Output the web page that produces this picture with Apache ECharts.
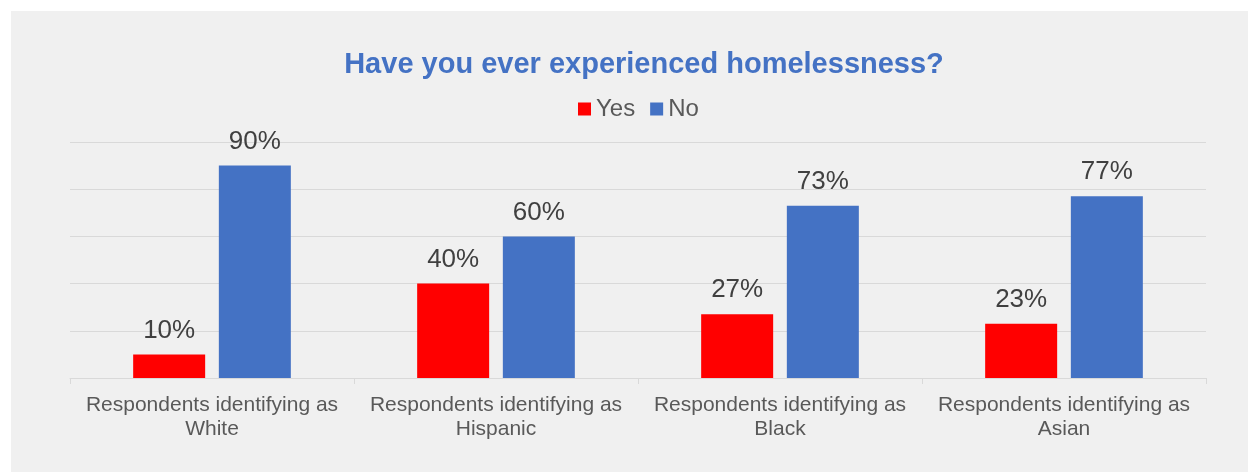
<!DOCTYPE html>
<html>
<head>
<meta charset="utf-8">
<script src="https://cdn.jsdelivr.net/npm/echarts@6/dist/echarts.min.js"></script>
<style>
  html, body { margin: 0; padding: 0; background: #ffffff; width: 1248px; height: 472px; overflow: hidden; }
  #chart { position: absolute; left: 11px; top: 11px; width: 1237px; height: 461px; background: #f0f0f0; }
</style>
</head>
<body>
<div id="chart"></div>
<script>
// Survey responses by group (percent)
const categories = [
  'Respondents identifying as\nWhite',
  'Respondents identifying as\nHispanic',
  'Respondents identifying as\nBlack',
  'Respondents identifying as\nAsian'
];
const yesValues = [10, 40, 27, 23];
const noValues = [90, 60, 73, 77];
const seriesNames = ['Yes', 'No'];

const FONT = '"Liberation Sans", Arial, sans-serif';

const chart = echarts.init(document.getElementById('chart'), null, { renderer: 'canvas' });

const labelStyle = {
  show: true,
  position: 'top',
  distance: 11,
  fontFamily: FONT,
  fontSize: 26,
  color: '#404040',
  formatter: p => p.value + '%'
};

chart.setOption({
  backgroundColor: '#f0f0f0',
  animation: false,
  title: {
    text: 'Have you ever experienced homelessness?',
    left: 628,
    textAlign: 'center',
    top: 34,
    textStyle: { fontFamily: FONT, fontSize: 29, fontWeight: 'bold', color: '#4472c4' }
  },
  legend: {
    data: seriesNames,
    top: 81,
    left: 562,
    itemWidth: 13,
    itemHeight: 13,
    itemGap: 15,
    icon: 'rect',
    textStyle: { fontFamily: FONT, fontSize: 24, color: '#595959' }
  },
  grid: { left: 59, right: 42, top: 131, bottom: 94, containLabel: false },
  xAxis: {
    type: 'category',
    data: categories,
    axisLine: { lineStyle: { color: '#d9d9d9', width: 1 } },
    axisTick: { show: true, length: 6, lineStyle: { color: '#d9d9d9' } },
    axisLabel: {
      fontFamily: FONT, fontSize: 21, color: '#595959', lineHeight: 24, margin: 15, interval: 0
    }
  },
  yAxis: {
    type: 'value',
    min: 0,
    max: 100,
    interval: 20,
    axisLabel: { show: false },
    axisLine: { show: false },
    axisTick: { show: false },
    splitLine: { lineStyle: { color: '#d9d9d9', width: 1 } }
  },
  series: [
    {
      name: seriesNames[0],
      type: 'bar',
      data: yesValues,
      barWidth: 72,
      barGap: '19%',
      itemStyle: { color: '#ff0000' },
      label: labelStyle
    },
    {
      name: seriesNames[1],
      type: 'bar',
      data: noValues,
      barWidth: 72,
      barGap: '19%',
      itemStyle: { color: '#4472c4' },
      label: labelStyle
    }
  ]
});
</script>
</body>
</html>
